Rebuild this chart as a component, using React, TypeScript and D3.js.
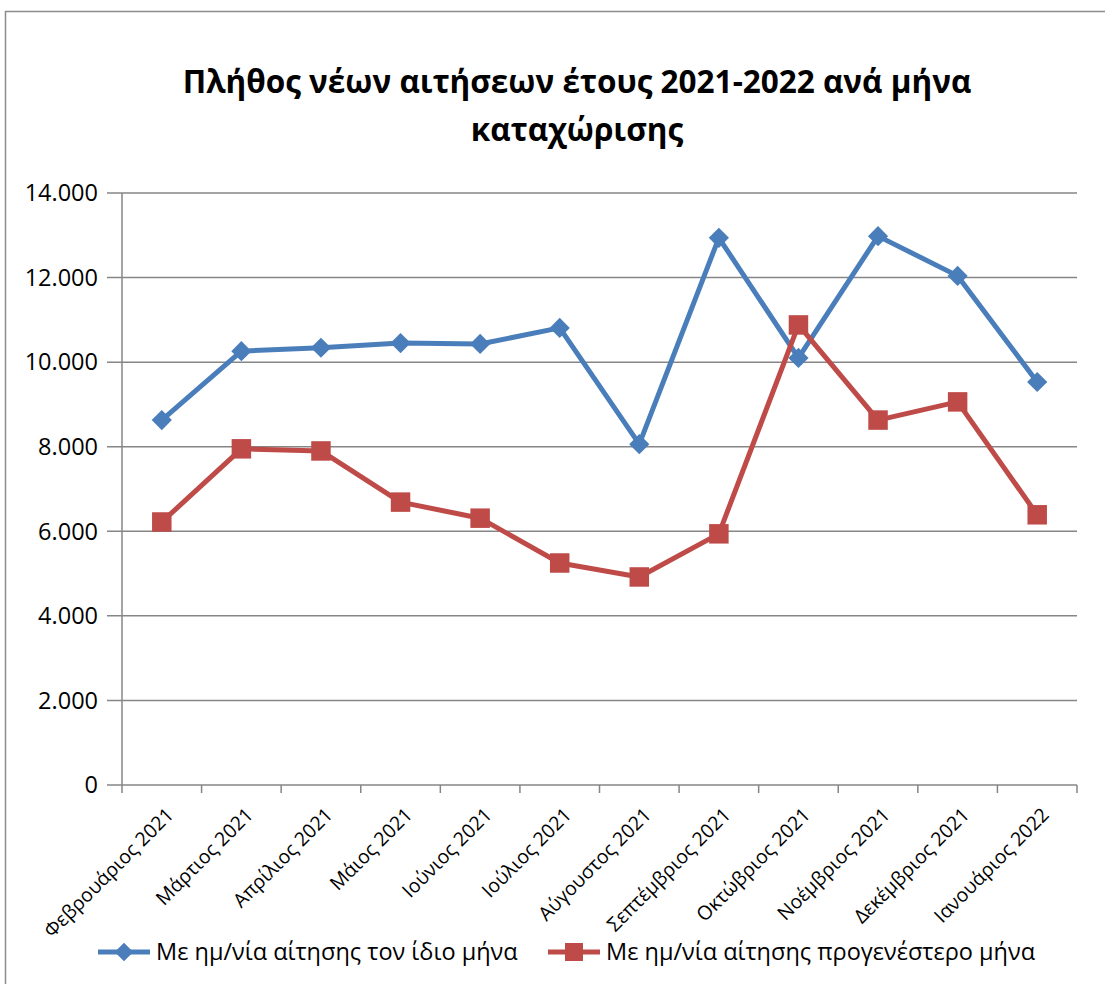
import * as d3 from 'd3';
import { useEffect, useRef } from "react";

const months = [
    'Φεβρουάριος 2021', 'Μάρτιος 2021', 'Απρίλιος 2021', 'Μάιος 2021',
    'Ιούνιος 2021', 'Ιούλιος 2021', 'Αύγουστος 2021', 'Σεπτέμβριος 2021',
    'Οκτώβριος 2021', 'Νοέμβριος 2021', 'Δεκέμβριος 2021', 'Ιανουάριος 2022',
];
const sameMonth = [8630, 10260, 10340, 10450, 10430, 10810, 8060, 12940, 10100, 12980, 12040, 9530];
const previousMonth = [6220, 7950, 7900, 6690, 6310, 5250, 4920, 5940, 10880, 8630, 9060, 6390];
const yTicks = [0, 2000, 4000, 6000, 8000, 10000, 12000, 14000];
const seriesNames = ['Με ημ/νία αίτησης τον ίδιο μήνα', 'Με ημ/νία αίτησης προγενέστερο μήνα'];

const WIDTH = 1105;
const HEIGHT = 984;
const FONT = "'Open Sans', 'Noto Sans', sans-serif";
const BLUE = '#4A7EBB';
const RED = '#BE4B48';
const GRID = '#868686';

const plot = { left: 122, right: 1077, top: 193, bottom: 785 };

const fmt = (v: number) => d3.format(',')(v).replace(/,/g, '.');

export default function App() {
    const ref = useRef(null);
    useEffect(() => {
        if (!ref.current) return;
        const svg = d3.select(ref.current);
        svg.selectAll("*").remove();

        svg.append('rect')
            .attr('x', 5.5).attr('y', 11.5)
            .attr('width', 1110).attr('height', 1000)
            .attr('fill', 'white').attr('stroke', '#8c8c8c').attr('stroke-width', 1.5);

        // title
        const title = svg.append('text')
            .attr('text-anchor', 'middle')
            .attr('font-family', FONT)
            .attr('font-weight', 'bold')
            .attr('font-size', 31.5)
            .attr('fill', '#000');
        title.append('tspan').attr('x', 577).attr('y', 93).text('Πλήθος νέων αιτήσεων έτους 2021-2022 ανά μήνα');
        title.append('tspan').attr('x', 577).attr('y', 141).text('καταχώρισης');

        const x = d3.scaleBand<string>()
            .domain(months)
            .range([plot.left, plot.right]);
        const y = d3.scaleLinear()
            .domain([0, 14000])
            .range([plot.bottom, plot.top]);

        // gridlines
        svg.append('g')
            .selectAll('line')
            .data(yTicks)
            .enter()
            .append('line')
            .attr('x1', plot.left - 15)
            .attr('x2', plot.right)
            .attr('y1', d => y(d))
            .attr('y2', d => y(d))
            .attr('stroke', GRID)
            .attr('stroke-width', 1.5);

        // y axis line
        svg.append('line')
            .attr('x1', plot.left).attr('x2', plot.left)
            .attr('y1', plot.top).attr('y2', plot.bottom)
            .attr('stroke', GRID).attr('stroke-width', 1.5);

        // y labels
        svg.append('g')
            .selectAll('text')
            .data(yTicks)
            .enter()
            .append('text')
            .attr('x', 98)
            .attr('y', d => y(d))
            .attr('dy', '0.35em')
            .attr('text-anchor', 'end')
            .attr('font-family', FONT)
            .attr('font-size', 23.5)
            .text(d => fmt(d));

        // x ticks
        const edges = months.map(m => x(m) as number).concat([plot.right]);
        svg.append('g')
            .selectAll('line')
            .data(edges)
            .enter()
            .append('line')
            .attr('x1', d => d).attr('x2', d => d)
            .attr('y1', plot.bottom).attr('y2', plot.bottom + 8)
            .attr('stroke', GRID).attr('stroke-width', 1.5);

        // x labels
        svg.append('g')
            .selectAll('text')
            .data(months)
            .enter()
            .append('text')
            .attr('transform', d => `translate(${(x(d) as number) + x.bandwidth() / 2 + 13}, ${plot.bottom + 31}) rotate(-45)`)
            .attr('text-anchor', 'end')
            .attr('font-family', FONT)
            .attr('font-size', 19.5)
            .text(d => d);

        const cx = (i: number) => (x(months[i]) as number) + x.bandwidth() / 2;
        const line = d3.line<number>()
            .x((_, i) => cx(i))
            .y(d => y(d));

        const series = [
            { values: sameMonth, color: BLUE, symbol: d3.symbolDiamond2, size: 260 },
            { values: previousMonth, color: RED, symbol: d3.symbolSquare, size: 380 },
        ];

        series.forEach(s => {
            svg.append('path')
                .datum(s.values)
                .attr('d', line)
                .attr('fill', 'none')
                .attr('stroke', s.color)
                .attr('stroke-width', 5)
                .attr('stroke-linejoin', 'round');
            svg.append('g')
                .selectAll('path')
                .data(s.values)
                .enter()
                .append('path')
                .attr('transform', (d, i) => `translate(${cx(i)}, ${y(d)})`)
                .attr('d', d3.symbol().type(s.symbol).size(s.size)())
                .attr('fill', s.color);
        });

        // legend
        const legendX = [98, 548];
        series.forEach((s, i) => {
            const g = svg.append('g').attr('transform', `translate(${legendX[i]}, 952)`);
            g.append('line')
                .attr('x1', 0).attr('x2', 52)
                .attr('stroke', s.color).attr('stroke-width', 5);
            g.append('path')
                .attr('transform', 'translate(26, 0)')
                .attr('d', d3.symbol().type(s.symbol).size(s.size * 0.85)())
                .attr('fill', s.color);
            g.append('text')
                .attr('x', 58)
                .attr('dy', '0.35em')
                .attr('font-family', FONT)
                .attr('font-size', 23.5)
                .text(seriesNames[i]);
        });
    }, []);

    return (
        <svg ref={ref} width={WIDTH} height={HEIGHT}
            style={{ position: 'absolute', left: 0, top: 0, display: 'block' }}></svg>
    );
}
